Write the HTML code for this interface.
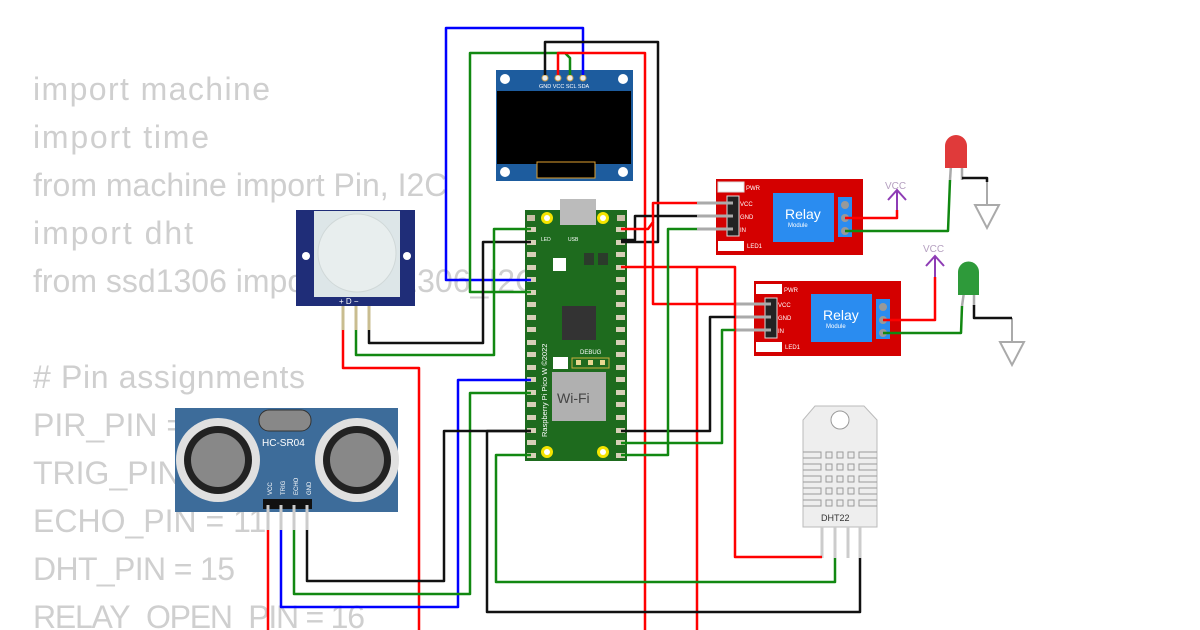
<!DOCTYPE html>
<html><head><meta charset="utf-8"><style>
html,body{margin:0;padding:0;background:#fff;}
svg{display:block;}
</style></head><body>
<svg width="1200" height="630" viewBox="0 0 1200 630" xmlns="http://www.w3.org/2000/svg" font-family="Liberation Sans, DejaVu Sans, sans-serif">
<rect width="1200" height="630" fill="#fff"/>
<!-- code text -->
<g fill="#cfcfcf" font-size="32">
<text x="33" y="100" textLength="237">import machine</text>
<text x="33" y="148" textLength="176">import time</text>
<text x="33" y="196">from machine import Pin, I2C</text>
<text x="33" y="244" textLength="160">import dht</text>
<text x="33" y="292">from ssd1306 import SSD1306_I2C</text>
<text x="33" y="388" textLength="272"># Pin assignments</text>
<text x="33" y="436">PIR_PIN = 14</text>
<text x="33" y="484">TRIG_PIN = 12</text>
<text x="33" y="532">ECHO_PIN = 11</text>
<text x="33" y="580" textLength="202">DHT_PIN = 15</text>
<text x="33" y="628" textLength="332">RELAY_OPEN_PIN = 16</text>
</g>

<!-- OLED -->
<rect x="496" y="70" width="137" height="111" fill="#1d5c9e"/>
<rect x="497" y="91" width="134" height="73" fill="#000"/>
<rect x="537" y="162" width="58" height="16" fill="#000" stroke="#e0a030" stroke-width="1"/>
<circle cx="505" cy="79" r="5" fill="#fff"/><circle cx="623" cy="79" r="5" fill="#fff"/>
<circle cx="505" cy="172" r="5" fill="#fff"/><circle cx="623" cy="172" r="5" fill="#fff"/>
<g fill="#eee" stroke="#c8a050" stroke-width="1"><circle cx="545" cy="78" r="3"/><circle cx="558" cy="78" r="3"/><circle cx="570" cy="78" r="3"/><circle cx="583" cy="78" r="3"/></g>
<g fill="#fff" font-size="5.5"><text x="539" y="88">GND VCC SCL SDA</text></g>

<!-- Pico -->
<rect x="525" y="210" width="102" height="251" fill="#1e6b1e"/>
<rect x="560" y="199" width="36" height="26" fill="#bbb"/>
<g fill="#c9c0a8">
<rect x="527" y="215" width="8" height="6"/><rect x="617" y="215" width="8" height="6"/>
</g>
<circle cx="547" cy="218" r="6" fill="#f5e400"/><circle cx="547" cy="218" r="3" fill="#fff"/>
<circle cx="603" cy="218" r="6" fill="#f5e400"/><circle cx="603" cy="218" r="3" fill="#fff"/>
<circle cx="547" cy="452" r="6" fill="#f5e400"/><circle cx="547" cy="452" r="3" fill="#fff"/>
<circle cx="603" cy="452" r="6" fill="#f5e400"/><circle cx="603" cy="452" r="3" fill="#fff"/>
<rect x="553" y="258" width="13" height="13" fill="#fff"/>
<rect x="584" y="253" width="10" height="12" fill="#2b3b2b"/>
<rect x="598" y="253" width="10" height="12" fill="#2b3b2b"/>
<rect x="562" y="306" width="34" height="34" fill="#333"/>
<rect x="553" y="357" width="15" height="12" fill="#fff"/>
<rect x="572" y="358" width="37" height="10" fill="none" stroke="#c8b040" stroke-width="1"/>
<g fill="#e8d890"><rect x="576" y="360" width="5" height="5"/><rect x="588" y="360" width="5" height="5"/><rect x="600" y="360" width="5" height="5"/></g>
<text x="580" y="354" fill="#fff" font-size="6">DEBUG</text>
<rect x="552" y="372" width="54" height="49" fill="#b0b0b0"/>
<text x="557" y="403" fill="#444" font-size="14">Wi-Fi</text>
<text x="0" y="0" fill="#fff" font-size="7.5" transform="translate(547,437) rotate(-90)">Raspberry Pi Pico W ©2022</text>
<text x="541" y="241" fill="#fff" font-size="5">LED</text><text x="568" y="241" fill="#fff" font-size="5">USB</text>
<g fill="#d8d0b8">
<rect x="527" y="227" width="9" height="5"/><rect x="527" y="240" width="9" height="5"/><rect x="527" y="252" width="9" height="5"/><rect x="527" y="265" width="9" height="5"/><rect x="527" y="277" width="9" height="5"/><rect x="527" y="290" width="9" height="5"/><rect x="527" y="302" width="9" height="5"/><rect x="527" y="315" width="9" height="5"/><rect x="527" y="327" width="9" height="5"/><rect x="527" y="340" width="9" height="5"/><rect x="527" y="352" width="9" height="5"/><rect x="527" y="365" width="9" height="5"/><rect x="527" y="377" width="9" height="5"/><rect x="527" y="390" width="9" height="5"/><rect x="527" y="402" width="9" height="5"/><rect x="527" y="415" width="9" height="5"/><rect x="527" y="428" width="9" height="5"/><rect x="527" y="440" width="9" height="5"/><rect x="527" y="453" width="9" height="5"/>
<rect x="616" y="227" width="9" height="5"/><rect x="616" y="240" width="9" height="5"/><rect x="616" y="252" width="9" height="5"/><rect x="616" y="265" width="9" height="5"/><rect x="616" y="277" width="9" height="5"/><rect x="616" y="290" width="9" height="5"/><rect x="616" y="302" width="9" height="5"/><rect x="616" y="315" width="9" height="5"/><rect x="616" y="327" width="9" height="5"/><rect x="616" y="340" width="9" height="5"/><rect x="616" y="352" width="9" height="5"/><rect x="616" y="365" width="9" height="5"/><rect x="616" y="377" width="9" height="5"/><rect x="616" y="390" width="9" height="5"/><rect x="616" y="402" width="9" height="5"/><rect x="616" y="415" width="9" height="5"/><rect x="616" y="428" width="9" height="5"/><rect x="616" y="440" width="9" height="5"/><rect x="616" y="453" width="9" height="5"/>
</g>

<!-- PIR -->
<rect x="296" y="210" width="119" height="96" fill="#1f2d78"/>
<rect x="314" y="211" width="86" height="86" fill="#dde6e8"/>
<circle cx="357" cy="253" r="39" fill="#e8eeee" stroke="#d0d8d8"/>
<circle cx="306" cy="256" r="4" fill="#fff"/><circle cx="407" cy="256" r="4" fill="#fff"/>
<text x="339" y="304" fill="#fff" font-size="8">+ D −</text>
<g stroke="#c9bd90" stroke-width="3"><line x1="343" y1="306" x2="343" y2="330"/><line x1="356" y1="306" x2="356" y2="330"/><line x1="369" y1="306" x2="369" y2="330"/></g>

<!-- HC-SR04 -->
<rect x="175" y="408" width="223" height="104" fill="#3d6c9a"/>
<rect x="259" y="410" width="52" height="21" rx="10" fill="#888" stroke="#333"/>
<circle cx="218" cy="460" r="42" fill="#e0e0e0"/><circle cx="218" cy="460" r="34" fill="#222"/><circle cx="218" cy="460" r="27" fill="#888"/>
<circle cx="357" cy="460" r="42" fill="#e0e0e0"/><circle cx="357" cy="460" r="34" fill="#222"/><circle cx="357" cy="460" r="27" fill="#888"/>
<text x="262" y="446" fill="#fff" font-size="10">HC-SR04</text>
<g fill="#fff" font-size="6">
<text transform="translate(272,495) rotate(-90)">VCC</text><text transform="translate(285,495) rotate(-90)">TRIG</text><text transform="translate(298,495) rotate(-90)">ECHO</text><text transform="translate(311,495) rotate(-90)">GND</text>
</g>
<rect x="263" y="499" width="49" height="10" fill="#111"/>
<g stroke="#ccc" stroke-width="3"><line x1="268" y1="505" x2="268" y2="530"/><line x1="281" y1="505" x2="281" y2="530"/><line x1="294" y1="505" x2="294" y2="530"/><line x1="307" y1="505" x2="307" y2="530"/></g>

<!-- Relay 1 -->
<g>
<rect x="716" y="179" width="147" height="76" fill="#d40000"/>
<rect x="773" y="193" width="61" height="49" fill="#2a8cf0"/>
<text x="785" y="219" fill="#fff" font-size="14">Relay</text><text x="788" y="227" fill="#fff" font-size="6">Module</text>
<rect x="838" y="197" width="14" height="40" fill="#2a8cf0"/>
<circle cx="845" cy="205" r="4" fill="#999"/><circle cx="845" cy="218" r="4" fill="#999"/><circle cx="845" cy="231" r="4" fill="#999"/>
<rect x="727" y="196" width="12" height="40" fill="#222" stroke="#ddd"/>
<rect x="718" y="182" width="26" height="10" fill="#fff" stroke="#ddd"/><rect x="718" y="241" width="26" height="10" fill="#fff"/>
<g fill="#fff" font-size="6"><text x="746" y="190">PWR</text><text x="740" y="206">VCC</text><text x="740" y="219">GND</text><text x="740" y="232">IN</text><text x="747" y="248">LED1</text></g>
<g stroke="#aaa" stroke-width="3"><line x1="697" y1="203" x2="733" y2="203"/><line x1="697" y1="216" x2="733" y2="216"/><line x1="697" y1="229" x2="733" y2="229"/></g>
</g>
<!-- Relay 2 -->
<g>
<rect x="754" y="281" width="147" height="75" fill="#d40000"/>
<rect x="811" y="294" width="61" height="48" fill="#2a8cf0"/>
<text x="823" y="320" fill="#fff" font-size="14">Relay</text><text x="826" y="328" fill="#fff" font-size="6">Module</text>
<rect x="876" y="299" width="14" height="40" fill="#2a8cf0"/>
<circle cx="883" cy="307" r="4" fill="#999"/><circle cx="883" cy="320" r="4" fill="#999"/><circle cx="883" cy="333" r="4" fill="#999"/>
<rect x="765" y="298" width="12" height="40" fill="#222" stroke="#ddd"/>
<rect x="756" y="284" width="26" height="10" fill="#fff"/><rect x="756" y="342" width="26" height="10" fill="#fff"/>
<g fill="#fff" font-size="6"><text x="784" y="292">PWR</text><text x="778" y="307">VCC</text><text x="778" y="320">GND</text><text x="778" y="333">IN</text><text x="785" y="349">LED1</text></g>
<g stroke="#aaa" stroke-width="3"><line x1="735" y1="304" x2="771" y2="304"/><line x1="735" y1="317" x2="771" y2="317"/><line x1="735" y1="330" x2="771" y2="330"/></g>
</g>

<!-- DHT22 -->
<path d="M803 438 L803 420 L815 406 L864 406 L877 420 L877 527 L803 527 Z" fill="#eee" stroke="#bbb"/>
<circle cx="840" cy="420" r="9" fill="#fff" stroke="#999"/>
<g fill="none" stroke="#999" stroke-width="1">
<rect x="826" y="452" width="6" height="6"/><rect x="837" y="452" width="6" height="6"/><rect x="848" y="452" width="6" height="6"/>
<rect x="826" y="464" width="6" height="6"/><rect x="837" y="464" width="6" height="6"/><rect x="848" y="464" width="6" height="6"/>
<rect x="826" y="476" width="6" height="6"/><rect x="837" y="476" width="6" height="6"/><rect x="848" y="476" width="6" height="6"/>
<rect x="826" y="488" width="6" height="6"/><rect x="837" y="488" width="6" height="6"/><rect x="848" y="488" width="6" height="6"/>
<rect x="826" y="500" width="6" height="6"/><rect x="837" y="500" width="6" height="6"/><rect x="848" y="500" width="6" height="6"/>
<path d="M803 452h18v6h-18M803 464h18v6h-18M803 476h18v6h-18M803 488h18v6h-18M803 500h18v6h-18M877 452h-18v6h18M877 464h-18v6h18M877 476h-18v6h18M877 488h-18v6h18M877 500h-18v6h18"/>
</g>
<text x="821" y="521" fill="#333" font-size="9">DHT22</text>
<g stroke="#ccc" stroke-width="3"><line x1="822" y1="527" x2="822" y2="558"/><line x1="835" y1="527" x2="835" y2="558"/><line x1="848" y1="527" x2="848" y2="558"/><line x1="860" y1="527" x2="860" y2="558"/></g>

<!-- LEDs -->
<g stroke="#aaa" stroke-width="2.5"><line x1="951" y1="165" x2="950" y2="180"/><line x1="962" y1="165" x2="962" y2="180"/><line x1="964" y1="292" x2="962" y2="306"/><line x1="974" y1="292" x2="974" y2="306"/></g>
<path d="M945 168 L945 146 A11 11 0 0 1 967 146 L967 168 Z" fill="#e03a3a"/>
<path d="M958 295 L958 272 A10.5 10.5 0 0 1 979 272 L979 295 Z" fill="#2e9a3a"/>
<!-- grounds -->
<g fill="none" stroke="#aaa" stroke-width="2">
<line x1="987" y1="180" x2="987" y2="205"/><path d="M975 205 L999 205 L987 228 Z"/>
<line x1="1012" y1="318" x2="1012" y2="342"/><path d="M1000 342 L1024 342 L1012 365 Z"/>
</g>
<!-- VCC -->
<g stroke="#8e3cb5" stroke-width="2" fill="none">
<path d="M897 210 L897 190 M888 200 L897 190 L906 200"/>
<path d="M935 277 L935 256 M926 266 L935 256 L944 266"/>
</g>
<text x="885" y="189" fill="#b5a0c0" font-size="10">VCC</text>
<text x="923" y="252" fill="#b5a0c0" font-size="10">VCC</text>

<!-- wires -->
<g fill="none" stroke-width="2.5" stroke-linejoin="round">
<polyline stroke="#0000ff" points="531,280 446,280 446,28 583,28 583,75"/>
<polyline stroke="#118811" points="531,292 470,292 470,53 565,53 570,58 570,75"/>
<polyline stroke="#111" points="545,75 545,42 658,42 658,242 621,242"/>
<polyline stroke="#ff0000" points="558,75 558,53 645,53 645,630"/>
<polyline stroke="#111" points="697,216 635,216 635,240 621,240"/>
<polyline stroke="#ff0000" points="621,229 648,229 653,222 653,203 697,203"/>
<polyline stroke="#ff0000" points="653,222 653,304 735,304"/>
<polyline stroke="#ff0000" points="621,267 735,267 735,557 822,557"/>
<polyline stroke="#ff0000" points="697,267 697,630"/>
<polyline stroke="#111" points="735,317 710,317 710,431 621,431"/>
<polyline stroke="#118811" points="697,229 668,229 668,455 621,455"/>
<polyline stroke="#118811" points="735,330 722,330 722,443 621,443"/>
<polyline stroke="#111" points="531,242 483,242 483,343 369,343 369,330"/>
<polyline stroke="#118811" points="531,229 494,229 494,355 356,355 356,330"/>
<polyline stroke="#ff0000" points="343,330 343,368 419,368 419,630"/>
<polyline stroke="#0000ff" points="531,380 458,380 458,607 281,607 281,530"/>
<polyline stroke="#118811" points="531,393 470,393 470,594 294,594 294,530"/>
<polyline stroke="#111" points="531,431 444,431 444,581 307,581 307,530"/>
<polyline stroke="#111" points="531,431 487,431 487,612 860,612 860,558"/>
<polyline stroke="#118811" points="531,455 496,455 496,582 835,582 835,558"/>
<polyline stroke="#ff0000" points="268,530 268,630"/>
<polyline stroke="#ff0000" points="845,218 897,218 897,210"/>
<polyline stroke="#118811" points="845,231 948,231 950,180"/>
<polyline stroke="#111" points="962,178 987,178 987,182"/>
<polyline stroke="#ff0000" points="883,320 935,320 935,277"/>
<polyline stroke="#118811" points="883,333 961,333 962,306"/>
<polyline stroke="#111" points="974,305 974,318 1012,318"/>
</g>
</svg>
</body></html>
